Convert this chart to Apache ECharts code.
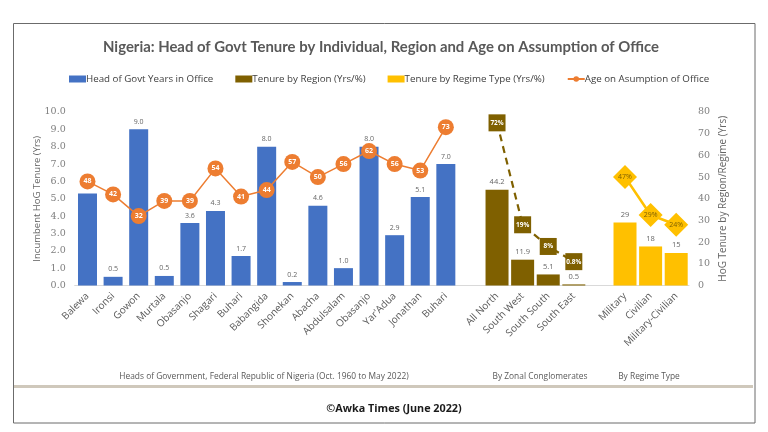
<!DOCTYPE html>
<html>
<head>
<meta charset="utf-8">
<style>
  html, body { margin: 0; padding: 0; background: #fff; }
  #chart { width: 768px; height: 432px; }
</style>
<script src="https://cdn.jsdelivr.net/npm/echarts@6/dist/echarts.min.js"></script>
</head>
<body>
<div id="chart"></div>
<script>
var categories = ['Balewa', 'Ironsi', 'Gowon', 'Murtala', 'Obasanjo', 'Shagari', 'Buhari', 'Babangida', 'Shonekan', 'Abacha', 'Abdulsalam', 'Obasanjo', "Yar'Adua", 'Jonathan', 'Buhari', '', 'All North', 'South West', 'South South', 'South East', '', 'Military', 'Civilian', 'Military-Civilian'];
var headYears = [5.3, 0.5, 9.0, 0.55, 3.6, 4.3, 1.7, 8.0, 0.2, 4.6, 1.0, 8.0, 2.9, 5.1, 7.0, null, null, null, null, null, null, null, null, null];
var headLabels = ['5.3', '0.5', '9.0', '0.5', '3.6', '4.3', '1.7', '8.0', '0.2', '4.6', '1.0', '8.0', '2.9', '5.1', '7.0'];
var ages = [48, 42, 32, 39, 39, 54, 41, 44, 57, 50, 56, 62, 56, 53, 73, null, null, null, null, null, null, null, null, null];
var regionYears = [null, null, null, null, null, null, null, null, null, null, null, null, null, null, null, null, 44.2, 11.9, 5.1, 0.5, null, null, null, null];
var regionMarks = [null, null, null, null, null, null, null, null, null, null, null, null, null, null, null, null, 75, 28, 18, 11, null, null, null, null];
var regionShare = { 16: '72%', 17: '19%', 18: '8%', 19: '0.8%' };
var regimeYears = [null, null, null, null, null, null, null, null, null, null, null, null, null, null, null, null, null, null, null, null, null, 29, 18, 15];
var regimeMarks = [null, null, null, null, null, null, null, null, null, null, null, null, null, null, null, null, null, null, null, null, null, 50, 32.5, 28];
var regimeShare = { 21: '47%', 22: '29%', 23: '24%' };
var leftTicks = { min: 0, max: 10, interval: 1 };
var rightTicks = { min: 0, max: 80, interval: 10 };

var uiFont = '"Open Sans", sans-serif';
var titleFont = 'Lato, sans-serif';
var numFont = '"DejaVu Serif", serif';

var myChart = echarts.init(document.getElementById('chart'), null, { renderer: 'canvas' });

var valueLabel = {
    show: true,
    position: 'top',
    distance: 4,
    color: '#666',
    fontSize: 7,
    fontFamily: uiFont
};

var option = {
    animation: false,
    backgroundColor: '#fff',
    textStyle: { fontFamily: uiFont },
    legend: {
        left: 64,
        top: 69,
        itemWidth: 17,
        itemHeight: 7,
        itemGap: 22,
        textStyle: { color: '#404040', fontSize: 9.75, fontFamily: uiFont, padding: [0, 0, 0, -5] },
        data: [
            { name: 'Head of Govt Years in Office', icon: 'rect' },
            { name: 'Tenure by Region (Yrs/%)', icon: 'rect' },
            { name: 'Tenure by Regime Type (Yrs/%)', icon: 'rect' },
            { name: 'Age on Asumption of Office' }
        ]
    },
    grid: { left: 74.7, right: 79, top: 112, bottom: 146.5 },
    xAxis: [
        {
            type: 'category',
            data: categories,
            axisTick: { show: false },
            axisLine: { lineStyle: { color: '#d9d9d9' } },
            axisLabel: { interval: 0, rotate: 45, margin: 9, color: '#595959', fontSize: 10, fontFamily: uiFont }
        },
        {
            type: 'category',
            data: categories,
            position: 'bottom',
            axisTick: { show: false },
            axisLine: { show: false },
            axisLabel: { show: false }
        }
    ],
    yAxis: [
        {
            type: 'value',
            min: leftTicks.min,
            max: leftTicks.max,
            interval: leftTicks.interval,
            name: 'Incumbent HoG Tenure (Yrs)',
            nameLocation: 'middle',
            nameGap: 32,
            nameMoveOverlap: false,
            nameTextStyle: { color: '#666', fontSize: 9.5, fontFamily: uiFont },
            splitLine: { show: false },
            axisLine: { show: false },
            axisTick: { show: false },
            axisLabel: {
                color: '#7f7f7f', fontSize: 9.5, fontFamily: numFont, margin: 9, padding: [4, 0, 0, 0],
                formatter: function (v) { return v.toFixed(1); }
            }
        },
        {
            type: 'value',
            min: rightTicks.min,
            max: rightTicks.max,
            interval: rightTicks.interval,
            name: 'HoG Tenure by Region/Regime (Yrs)',
            nameLocation: 'middle',
            nameGap: 29,
            nameRotate: 90,
            nameMoveOverlap: false,
            nameTextStyle: { color: '#666', fontSize: 10, fontFamily: uiFont },
            splitLine: { show: false },
            axisLine: { show: false },
            axisTick: { show: false },
            axisLabel: { color: '#7f7f7f', fontSize: 9.5, fontFamily: numFont, margin: 9, padding: [4, 0, 0, 0] }
        }
    ],
    series: [
        {
            name: 'Head of Govt Years in Office',
            type: 'bar',
            xAxisIndex: 0,
            yAxisIndex: 0,
            barWidth: 19,
            itemStyle: { color: '#4472c4' },
            label: Object.assign({}, valueLabel, {
                formatter: function (p) { return headLabels[p.dataIndex]; }
            }),
            data: headYears
        },
        {
            name: 'Tenure by Region (Yrs/%)',
            type: 'bar',
            xAxisIndex: 1,
            yAxisIndex: 1,
            barWidth: 23,
            barGap: '-100%',
            itemStyle: { color: '#7f6000' },
            label: Object.assign({}, valueLabel, { fontSize: 7.5 }),
            data: regionYears
        },
        {
            name: 'Tenure by Regime Type (Yrs/%)',
            type: 'bar',
            xAxisIndex: 1,
            yAxisIndex: 1,
            barWidth: 23,
            barGap: '-100%',
            itemStyle: { color: '#ffc000' },
            label: Object.assign({}, valueLabel, { fontSize: 7.5 }),
            data: regimeYears
        },
        {
            name: 'Region share',
            type: 'line',
            xAxisIndex: 1,
            yAxisIndex: 1,
            symbol: 'rect',
            symbolSize: [17, 17],
            showAllSymbol: true,
            lineStyle: { color: '#7f6000', width: 2.2, type: [7, 5] },
            itemStyle: { color: '#7f6000' },
            label: {
                show: true,
                position: 'inside',
                color: '#fff',
                fontSize: 6.5,
                fontWeight: 'bold',
                formatter: function (p) { return regionShare[p.dataIndex]; }
            },
            data: regionMarks
        },
        {
            name: 'Regime share',
            type: 'line',
            xAxisIndex: 1,
            yAxisIndex: 1,
            symbol: 'diamond',
            symbolSize: [24, 24],
            showAllSymbol: true,
            lineStyle: { color: '#ffc000', width: 2.5 },
            itemStyle: { color: '#ffc000' },
            label: {
                show: true,
                position: 'inside',
                color: '#7f6000',
                fontSize: 7,
                formatter: function (p) { return regimeShare[p.dataIndex]; }
            },
            data: regimeMarks
        },
        {
            name: 'Age on Asumption of Office',
            type: 'line',
            xAxisIndex: 0,
            yAxisIndex: 1,
            symbol: 'circle',
            symbolSize: 16,
            showAllSymbol: true,
            lineStyle: { color: '#ed7d31', width: 1.5 },
            itemStyle: { color: '#ed7d31' },
            label: {
                show: true,
                position: 'inside',
                color: '#fff',
                fontSize: 7,
                fontWeight: 'bold'
            },
            data: ages
        }
    ],
    graphic: [
        { type: 'rect', silent: true, shape: { x: 13.5, y: 23.5, width: 741.5, height: 399.5 }, style: { fill: 'none', stroke: '#6b6b6b', lineWidth: 1 } },
        { type: 'line', silent: true, shape: { x1: 14, y1: 386.5, x2: 753, y2: 386.5 }, style: { stroke: '#cfc8bb', lineWidth: 3 } },
        { type: 'text', silent: true, x: 381, y: 47, style: { text: 'Nigeria: Head of Govt Tenure by Individual, Region and Age on Assumption of Office', fill: '#595959', font: 'bold 14.9px ' + titleFont, textAlign: 'center', textVerticalAlign: 'middle' } },
        { type: 'text', silent: true, x: 264, y: 377, style: { text: 'Heads of Government, Federal Republic of Nigeria (Oct. 1960 to May 2022)', fill: '#595959', font: '8.4px ' + uiFont, textAlign: 'center', textVerticalAlign: 'middle' } },
        { type: 'text', silent: true, x: 540, y: 377, style: { text: 'By Zonal Conglomerates', fill: '#595959', font: '8.4px ' + uiFont, textAlign: 'center', textVerticalAlign: 'middle' } },
        { type: 'text', silent: true, x: 649, y: 377, style: { text: 'By Regime Type', fill: '#595959', font: '8.4px ' + uiFont, textAlign: 'center', textVerticalAlign: 'middle' } },
        { type: 'text', silent: true, x: 394, y: 409, style: { text: '©Awka Times (June 2022)', fill: '#1a1a1a', font: 'bold 10.8px ' + uiFont, textAlign: 'center', textVerticalAlign: 'middle' } }
    ]
};

myChart.setOption(option);
</script>
</body>
</html>
